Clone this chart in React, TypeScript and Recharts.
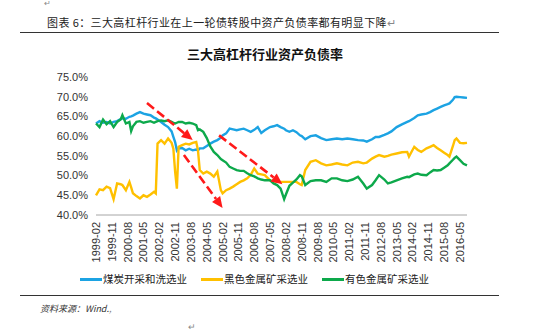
import { LineChart, Line, XAxis, YAxis, ReferenceLine } from "recharts";

/* ── Data ───────────────────────────────────────── */
const MONTHS = [
  "1999-02", "1999-04", "1999-06", "1999-08", "1999-10", "1999-12", "2000-02", "2000-04", "2000-05", "2000-07",
  "2000-09", "2000-10", "2000-11", "2001-01", "2001-03", "2001-05", "2001-07", "2001-09", "2001-11", "2001-12",
  "2002-01", "2002-03", "2002-05", "2002-07", "2002-09", "2002-10", "2002-11", "2002-12", "2003-01", "2003-03",
  "2003-05", "2003-07", "2003-09", "2003-11", "2003-12", "2004-01", "2004-03", "2004-05", "2004-07", "2004-09",
  "2004-11", "2005-01", "2005-02", "2005-04", "2005-06", "2005-08", "2005-10", "2005-12", "2006-02", "2006-04",
  "2006-06", "2006-08", "2006-10", "2006-12", "2007-02", "2007-05", "2007-07", "2007-09", "2007-11", "2008-01",
  "2008-02", "2008-04", "2008-06", "2008-08", "2008-10", "2008-11", "2009-01", "2009-04", "2009-07", "2009-10",
  "2010-01", "2010-04", "2010-07", "2010-10", "2011-01", "2011-04", "2011-07", "2011-10", "2011-12", "2012-03",
  "2012-05", "2012-07", "2012-10", "2012-12", "2013-02", "2013-05", "2013-08", "2013-11", "2013-12", "2014-03",
  "2014-05", "2014-07", "2014-10", "2014-12", "2015-02", "2015-04", "2015-06", "2015-08", "2015-10", "2015-11",
  "2016-01", "2016-02", "2016-03", "2016-05", "2016-07", "2016-09",
];

// 煤炭开采和洗选业
const COAL = [
  63.2, 63.8, 63.4, 63.6, 63.2, 63.6, 63.8, 64.3, 64.5, 64.4,
  64.9, 65.0, 65.2, 65.7, 66.1, 65.7, 65.5, 65.3, 64.7, 64.5,
  64.2, 63.6, 62.9, 62.3, 61.2, 59.8, 58.5, 56.4, 56.9, 57.0,
  56.4, 56.8, 56.4, 56.6, 56.4, 56.9, 56.9, 57.5, 58.1, 58.6,
  59.0, 59.6, 60.2, 60.7, 61.9, 61.7, 61.5, 61.7, 61.9, 61.5,
  61.1, 61.6, 62.3, 60.8, 61.5, 62.3, 62.5, 62.8, 62.3, 61.9,
  61.5, 61.1, 61.5, 61.0, 60.2, 60.0, 59.2, 60.0, 60.2, 59.5,
  59.0, 59.2, 59.4, 59.2, 59.4, 59.2, 59.0, 58.9, 58.6, 59.2,
  59.8, 59.8, 60.3, 60.7, 61.2, 62.3, 63.0, 63.6, 63.8, 64.6,
  65.3, 65.5, 65.7, 66.1, 66.6, 67.0, 67.4, 67.8, 68.1, 68.3,
  69.2, 69.9, 70.0, 69.9, 69.8, 69.7,
];

// 黑色金属矿采选业
const FERROUS = [
  45.0, 46.5, 46.3, 47.2, 46.8, 44.0, 48.0, 47.8, 47.6, 46.3,
  48.4, 47.0, 45.5, 44.8, 44.2, 45.0, 44.6, 45.2, 45.9, 45.5,
  58.1, 59.0, 58.1, 59.4, 58.3, 56.8, 51.0, 46.7, 57.3, 57.7,
  58.1, 57.9, 58.3, 58.5, 56.4, 51.4, 50.5, 51.0, 50.5, 49.7,
  51.0, 46.3, 45.5, 46.3, 46.7, 47.2, 47.8, 48.4, 48.8, 49.3,
  50.2, 51.8, 50.5, 50.3, 50.1, 48.8, 48.6, 48.4, 48.4, 48.4,
  48.4, 48.4, 48.4, 48.4, 47.8, 47.6, 51.4, 53.5, 53.9, 53.1,
  52.6, 52.8, 53.1, 52.8, 52.6, 53.3, 53.5, 53.1, 53.3, 54.3,
  54.8, 55.2, 54.8, 55.0, 55.3, 55.6, 55.9, 56.0, 54.8, 57.3,
  56.5, 56.0, 56.9, 57.3, 57.7, 57.0, 56.4, 55.8, 55.2, 54.8,
  57.5, 59.0, 59.4, 58.3, 58.2, 58.3,
];

// 有色金属矿采选业
const NONFERROUS = [
  63.2, 62.3, 64.2, 63.0, 63.8, 62.3, 63.6, 64.2, 65.3, 63.2,
  63.6, 61.3, 62.5, 63.6, 63.8, 63.4, 63.6, 63.8, 63.4, 63.6,
  63.8, 64.0, 63.8, 64.0, 63.6, 63.4, 63.2, 63.4, 63.6, 63.6,
  63.2, 63.4, 63.2, 62.8, 61.5, 61.7, 61.1, 59.5, 57.4, 56.0,
  55.2, 54.2, 53.9, 53.3, 52.2, 51.8, 51.4, 51.2, 51.2, 50.6,
  50.1, 49.8, 49.3, 49.0, 48.8, 48.8, 48.0, 47.6, 46.7, 44.0,
  45.2, 47.4, 48.2, 49.0, 50.1, 49.8, 47.6, 48.6, 48.8, 48.8,
  48.4, 49.3, 49.3, 48.8, 48.6, 49.0, 49.7, 48.0, 46.7, 47.6,
  48.8, 50.1, 49.0, 48.0, 48.3, 48.8, 49.3, 49.7, 49.6, 50.3,
  50.5, 50.2, 50.1, 50.8, 51.4, 51.3, 51.4, 52.0, 52.6, 53.1,
  54.0, 54.5, 54.8, 53.9, 53.0, 52.6,
];

const X_TICKS = [
  "1999-02", "1999-11", "2000-08", "2001-05", "2002-02", "2002-11", "2003-08", "2004-05",
  "2005-02", "2005-11", "2006-08", "2007-05", "2008-02", "2008-11", "2009-08", "2010-05",
  "2011-02", "2011-11", "2012-08", "2013-05", "2014-02", "2014-11", "2015-08", "2016-05",
];
const Y_TICKS = [40, 45, 50, 55, 60, 65, 70, 75];

// dashed red arrows drawn over the chart (start / end, in month + percent)
const ARROWS = [
  { from: ["2001-07", 68.4], to: ["2003-09", 59.0] },
  { from: ["2003-04", 55.2], to: ["2005-02", 41.8] },
  { from: ["2004-12", 60.2], to: ["2007-12", 47.8] },
];

const SERIES = [
  { key: "coal", name: "煤炭开采和洗选业", color: "#1CA3E3" },
  { key: "ferrous", name: "黑色金属矿采选业", color: "#FFC000" },
  { key: "nonferrous", name: "有色金属矿采选业", color: "#0DA94B" },
];

const monthIdx = (s: string) => {
  const [y, m] = s.split("-").map(Number);
  return (y - 1999) * 12 + (m - 2);
};
const monthLabel = (i: number) => {
  const y = 1999 + Math.floor((i + 1) / 12);
  const m = ((i + 1) % 12) + 1;
  return `${y}-${String(m).padStart(2, "0")}`;
};

const data = MONTHS.map((d, i) => ({
  t: monthIdx(d),
  coal: COAL[i],
  ferrous: FERROUS[i],
  nonferrous: NONFERROUS[i],
}));

const SANS = "'Liberation Sans', Arial, sans-serif";
const CJK = "'Noto Sans CJK SC', 'Liberation Sans', sans-serif";

const XTick = (props: any) => {
  const { x, y, payload } = props;
  return (
    <text
      x={0}
      y={0}
      transform={`translate(${x},${y - 1}) rotate(-90)`}
      textAnchor="end"
      dominantBaseline="central"
      fontSize={11}
      fontFamily={SANS}
      fill="#333"
    >
      {monthLabel(payload.value)}
    </text>
  );
};

const Arrow = (props: any) => {
  const { x1, y1, x2, y2 } = props;
  const dx = x2 - x1;
  const dy = y2 - y1;
  const len = Math.sqrt(dx * dx + dy * dy);
  const ux = dx / len;
  const uy = dy / len;
  const head = 11;
  const half = 5;
  const bx = x2 - ux * head;
  const by = y2 - uy * head;
  const pts = `${x2},${y2} ${bx - uy * half},${by + ux * half} ${bx + uy * half},${by - ux * half}`;
  return (
    <g>
      <line x1={x1} y1={y1} x2={bx} y2={by} stroke="#FF1A1A" strokeWidth={2.6} strokeDasharray="9 4" />
      <polygon points={pts} fill="#FF1A1A" />
    </g>
  );
};

export default function App() {
  return (
    <div
      style={{
        position: "absolute",
        left: 0,
        top: 0,
        width: 550,
        height: 335,
        background: "#fff",
        overflow: "hidden",
      }}
    >
      <div style={{ position: "absolute", left: 44, top: 0, fontSize: 8, lineHeight: "8px", color: "#888", fontFamily: SANS }}>↵</div>
      <div
        style={{
          position: "absolute",
          left: 47,
          top: 14,
          fontSize: 11,
          letterSpacing: 0.4,
          color: "#222",
          fontFamily: CJK,
          whiteSpace: "nowrap",
          lineHeight: "16px",
        }}
      >
        图表 6：三大高杠杆行业在上一轮债转股中资产负债率都有明显下降<span style={{ color: "#888" }}>↵</span>
      </div>
      <div style={{ position: "absolute", left: 20, top: 32, width: 479, height: 1, background: "#333" }} />

      <div
        style={{
          position: "absolute",
          left: 0,
          top: 45,
          width: 530,
          textAlign: "center",
          fontSize: 13,
          fontWeight: 700,
          color: "#111",
          fontFamily: CJK,
          lineHeight: "18px",
        }}
      >
        三大高杠杆行业资产负债率
      </div>

      <LineChart
        width={550}
        height={335}
        data={data}
        margin={{ top: 77, right: 83, bottom: 70, left: 36 }}
        style={{ position: "absolute", left: 0, top: 0 }}
      >
        <XAxis
          dataKey="t"
          type="number"
          domain={[0, 211]}
          ticks={X_TICKS.map(monthIdx)}
          tick={<XTick />}
          tickLine={false}
          axisLine={{ stroke: "#A6A6A6" }}
          height={50}
          interval={0}
        />
        <YAxis
          type="number"
          domain={[40, 75]}
          ticks={Y_TICKS}
          tickFormatter={(v: number) => `${v.toFixed(1)}%`}
          tick={{ fontSize: 11, fill: "#333", fontFamily: SANS }}
          axisLine={false}
          tickLine={false}
          width={60}
          interval={0}
        />
        {SERIES.map((s) => (
          <Line
            key={s.key}
            type="linear"
            dataKey={s.key}
            name={s.name}
            stroke={s.color}
            strokeWidth={2.4}
            dot={false}
            isAnimationActive={false}
          />
        ))}
        {ARROWS.map((a, i) => (
          <ReferenceLine
            key={i}
            segment={[
              { x: monthIdx(a.from[0] as string), y: a.from[1] as number },
              { x: monthIdx(a.to[0] as string), y: a.to[1] as number },
            ]}
            ifOverflow="visible"
            shape={<Arrow />}
          />
        ))}
      </LineChart>

      <div
        style={{
          position: "absolute",
          left: 80,
          top: 271,
          display: "flex",
          alignItems: "center",
          fontSize: 10.5,
          color: "#222",
          fontFamily: CJK,
          whiteSpace: "nowrap",
          lineHeight: "16px",
        }}
      >
        {SERIES.map((s, i) => (
          <div key={s.key} style={{ display: "flex", alignItems: "center", marginRight: i < 2 ? 14 : 0 }}>
            <span style={{ display: "inline-block", width: 22, height: 3, background: s.color, marginRight: 1 }} />
            <span>{s.name}</span>
          </div>
        ))}
      </div>

      <div style={{ position: "absolute", left: 20, top: 295, width: 479, height: 1, background: "#333" }} />
      <div
        style={{
          position: "absolute",
          left: 40,
          top: 302,
          fontSize: 9,
          fontStyle: "italic",
          color: "#333",
          fontFamily: CJK,
          whiteSpace: "nowrap",
          lineHeight: "14px",
        }}
      >
        资料来源：Wind.<span style={{ color: "#888" }}>,</span>
      </div>
      <div style={{ position: "absolute", left: 188, top: 322, fontSize: 9, color: "#888", fontFamily: SANS }}>↵</div>
    </div>
  );
}
